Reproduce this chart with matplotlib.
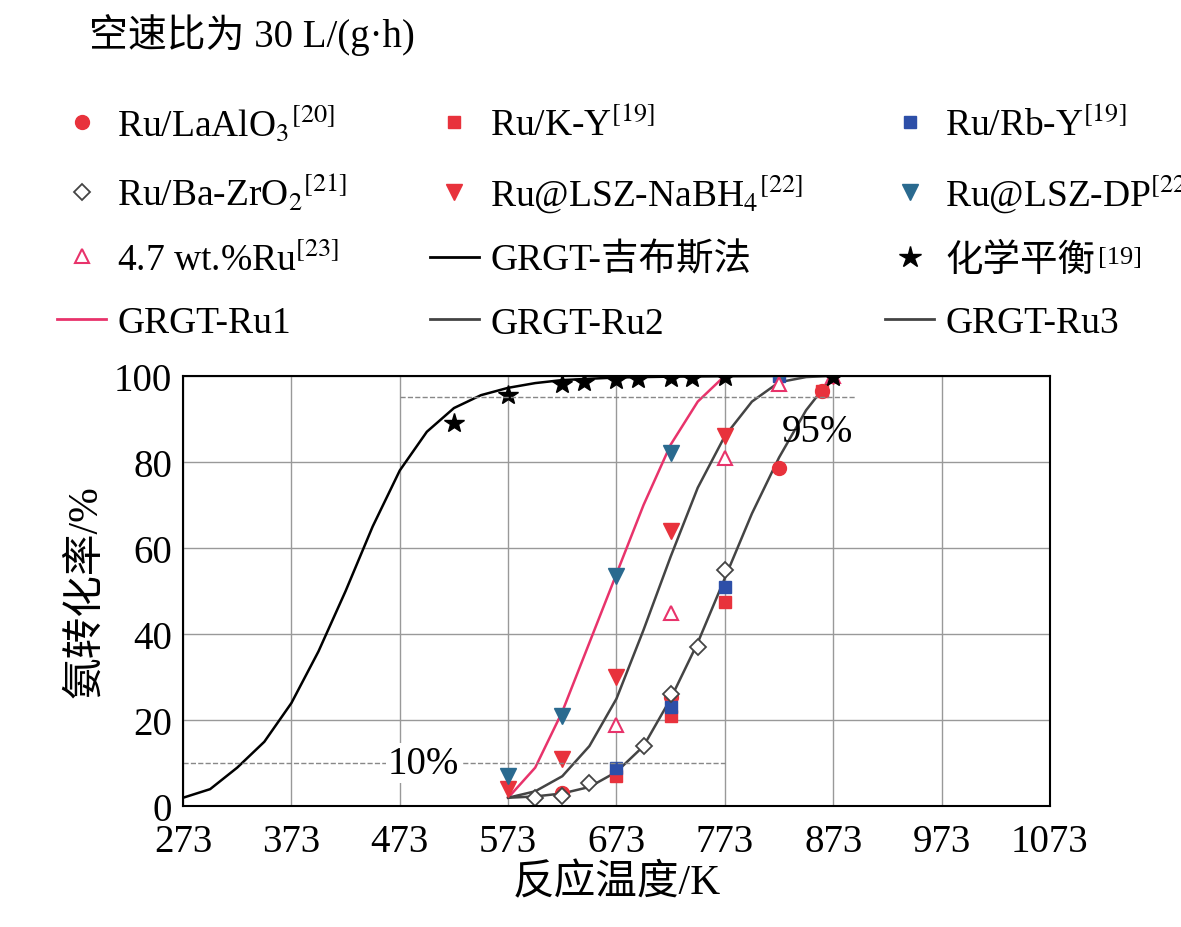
import numpy as np
import matplotlib.pyplot as plt
from matplotlib.lines import Line2D

plt.rcParams['font.family'] = ['Liberation Serif', 'Noto Sans CJK SC']
plt.rcParams['mathtext.fontset'] = 'stix'

# fitted curves
gibbs_T = [273, 298, 323, 348, 373, 398, 423, 448, 473, 498, 523, 548, 573, 598, 623, 673, 723, 773, 873]
gibbs_X = [2, 4, 9, 15, 24, 36, 50, 65, 78, 87, 92.5, 95.5, 97.2, 98.3, 99, 99.6, 99.8, 99.9, 100]
ru1_T = [573, 598, 623, 648, 673, 698, 723, 748, 773]
ru1_X = [2, 9, 22, 38, 54, 70, 84, 94, 100]
ru2_T = [573, 598, 623, 648, 673, 698, 723, 748, 773, 798, 823, 848, 873]
ru2_X = [2, 3.5, 7, 14, 25, 41, 58, 74, 86, 94, 98.5, 99.7, 100]
ru3_T = [573, 598, 623, 648, 673, 698, 723, 748, 773, 798, 823, 848, 873]
ru3_X = [2, 2.3, 3, 4.5, 8, 14, 25, 38, 53, 68, 81, 92, 100]

# literature data
la_T = [623, 723, 823, 863]; la_X = [3, 25.5, 78.5, 96.5]
ky_T = [673, 723, 773, 863]; ky_X = [7, 21, 47.5, 96.5]
rb_T = [673, 723, 773, 823]; rb_X = [9, 23, 51, 100]
ba_T = [598, 623, 648, 698, 723, 748, 773]; ba_X = [2, 2.5, 5.5, 14, 26, 37, 55]
na_T = [573, 623, 673, 723, 773, 873]; na_X = [4, 11, 30, 64, 86, 100]
dp_T = [573, 623, 673, 723, 823]; dp_X = [7, 21, 53.5, 82, 100]
wt_T = [673, 723, 773, 823, 873]; wt_X = [19, 45, 81, 98, 100]
eq_T = [523, 573, 623, 643, 673, 693, 723, 743, 773, 873]
eq_X = [89, 95.5, 98, 98.5, 99, 99.2, 99.4, 99.5, 99.7, 99.8]

xticks = [273, 373, 473, 573, 673, 773, 873, 973, 1073]

pink = '#e8336b'; red = '#e8323c'; blue = '#2d4fa8'; teal = '#2a6a8f'; grey = '#444444'

fig = plt.figure(figsize=(11.81, 9.28), dpi=100)
ax = fig.add_axes([0.155, 0.130, 0.734, 0.464])

ax.plot(gibbs_T, gibbs_X, color='black', lw=1.8)
ax.plot(ru1_T, ru1_X, color=pink, lw=1.8)
ax.plot(ru2_T, ru2_X, color=grey, lw=1.8)
ax.plot(ru3_T, ru3_X, color=grey, lw=1.8)

ms = 10
ax.plot(la_T, la_X, 'o', color=red, ms=ms)
ax.plot(ky_T, ky_X, 's', color=red, ms=ms - 1)
ax.plot(rb_T, rb_X, 's', color=blue, ms=ms - 1)
ax.plot(ba_T, ba_X, 'D', mfc='white', mec=grey, mew=1.3, ms=ms - 2)
ax.plot(na_T, na_X, 'v', color=red, ms=ms + 1)
ax.plot(dp_T, dp_X, 'v', color=teal, ms=ms + 1)
ax.plot(wt_T, wt_X, '^', mfc='white', mec=pink, mew=1.5, ms=ms)
ax.plot(eq_T, eq_X, '*', color='black', ms=ms + 5)

ax.plot([473, 893], [95, 95], ls='--', color='#888888', lw=1)
ax.plot([273, 773], [10, 10], ls='--', color='#888888', lw=1)
ax.text(858, 87, '95%', fontsize=28, ha='center', va='center')
ax.text(495, 10, '10%', fontsize=28, ha='center', va='center',
        bbox=dict(fc='white', ec='none', pad=1))

ax.set_xlim(273, 1073)
ax.set_ylim(0, 100)
ax.set_xticks(xticks)
ax.set_yticks(range(0, 101, 20))
ax.grid(True, color='#999999', lw=1)
ax.tick_params(labelsize=28, direction='in', length=0)
ax.tick_params(axis='x', pad=12)
ax.tick_params(axis='y', pad=8)
for s in ax.spines.values():
    s.set_linewidth(1.5)
ax.set_xlabel('反应温度/K', fontsize=30, labelpad=2)
ax.set_ylabel('氨转化率/%', fontsize=30, labelpad=6)

h = [
    Line2D([], [], ls='', marker='o', color=red, ms=ms),
    Line2D([], [], ls='', marker='s', color=red, ms=ms - 1),
    Line2D([], [], ls='', marker='s', color=blue, ms=ms - 1),
    Line2D([], [], ls='', marker='D', mfc='white', mec=grey, mew=1.3, ms=ms - 2),
    Line2D([], [], ls='', marker='v', color=red, ms=ms + 1),
    Line2D([], [], ls='', marker='v', color=teal, ms=ms + 1),
    Line2D([], [], ls='', marker='^', mfc='white', mec=pink, mew=1.5, ms=ms),
    Line2D([], [], color='black', lw=2),
    Line2D([], [], ls='', marker='*', color='black', ms=ms + 6),
    Line2D([], [], color=pink, lw=2),
    Line2D([], [], color=grey, lw=2),
    Line2D([], [], color=grey, lw=2),
]
labels = [r'Ru/LaAlO$_3$$^{[20]}$', r'Ru/K-Y$^{[19]}$', r'Ru/Rb-Y$^{[19]}$',
          r'Ru/Ba-ZrO$_2$$^{[21]}$', r'Ru@LSZ-NaBH$_4$$^{[22]}$', r'Ru@LSZ-DP$^{[22]}$',
          r'4.7 wt.%Ru$^{[23]}$', 'GRGT-吉布斯法', '化学平衡',
          'GRGT-Ru1', 'GRGT-Ru2', 'GRGT-Ru3']
# reorder so column-major filling reads row by row
order = [i * 3 + c for c in range(3) for i in range(4)]
leg = fig.legend([h[i] for i in order], [labels[i] for i in order], ncol=3,
                 loc='upper left', bbox_to_anchor=(0.02, 0.925), frameon=False,
                 fontsize=27, handlelength=1.3, handletextpad=0.3, columnspacing=2.2,
                 labelspacing=0.75)
fig.text(0.075, 0.962, '空速比为 30 L/(g·h)', fontsize=28, va='center')

# superscript for the CJK legend entry
fig.canvas.draw()
r = fig.canvas.get_renderer()
for t in leg.get_texts():
    if t.get_text() == '化学平衡':
        bb = t.get_window_extent(r).transformed(fig.transFigure.inverted())
        fig.text(bb.x1 + 0.002, bb.y1 - 0.004, '[19]', fontsize=19, va='top')

fig.savefig('out.png', dpi=100)
